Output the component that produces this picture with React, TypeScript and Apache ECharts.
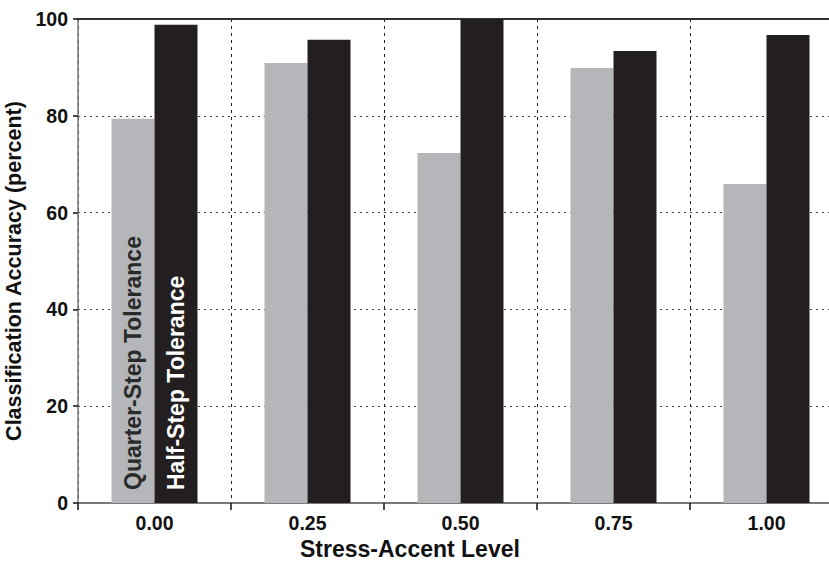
import React, { useEffect, useRef } from "react";
import * as echarts from "echarts";

const categories = ["0.00", "0.25", "0.50", "0.75", "1.00"];
const quarterStep = [79.4, 90.9, 72.3, 89.9, 65.9];
const halfStep = [98.8, 95.7, 100, 93.4, 96.7];
const yTicks = [0, 20, 40, 60, 80, 100];

const FONT = "'Liberation Sans', Arial, sans-serif";

export default function App() {
  const ref = useRef<HTMLDivElement>(null);
  useEffect(() => {
    if (!ref.current) return;
    const chart = echarts.init(ref.current, null, { renderer: "svg" });
    const barLabel = (text: string, color: string) => ({
      show: true,
      formatter: text,
      position: "insideBottom",
      rotate: 90,
      align: "left",
      verticalAlign: "middle",
      distance: 13,
      color,
      fontSize: 23,
      fontWeight: "bold",
      fontFamily: FONT,
    });
    const quarterData = quarterStep.map((v, i) =>
      i === 0 ? { value: v, label: barLabel("Quarter-Step Tolerance", "#2a2a2a") } : v
    );
    const halfData = halfStep.map((v, i) =>
      i === 0 ? { value: v, label: barLabel("Half-Step Tolerance", "#ffffff") } : v
    );
    chart.setOption({
      animation: false,
      backgroundColor: "#ffffff",
      textStyle: { fontFamily: FONT },
      grid: {
        left: 78,
        top: 19,
        width: 765,
        height: 484,
        show: false,
        containLabel: false,
        outerBoundsMode: "none",
      },
      xAxis: [
        {
          type: "category",
          data: categories,
          position: "bottom",
          axisLine: { lineStyle: { color: "#7a7a7a", width: 2 } },
          axisTick: { show: true, length: 7, lineStyle: { color: "#111", width: 1.5 } },
          axisLabel: {
            color: "#111",
            fontSize: 19.5,
            fontWeight: "bold",
            fontFamily: FONT,
            margin: 10,
          },
          splitLine: {
            show: true,
            lineStyle: { color: "#222", type: [3, 4], width: 1 },
          },
        },
        {
          type: "category",
          data: categories,
          position: "top",
          axisLine: { lineStyle: { color: "#333", width: 2 } },
          axisTick: { show: false },
          axisLabel: { show: false },
          splitLine: { show: false },
        },
      ],
      yAxis: {
        type: "value",
        min: 0,
        max: 100,
        interval: 20,
        name: "Classification Accuracy (percent)",
        nameLocation: "middle",
        nameGap: 47,
        nameTextStyle: {
          color: "#111",
          fontSize: 21.5,
          fontWeight: "bold",
          fontFamily: FONT,
          padding: [0, 20, 0, 0],
        },
        axisLine: { show: true, lineStyle: { color: "#7a7a7a", width: 1.5 } },
        axisTick: { show: true, length: 5, lineStyle: { color: "#111", width: 1.5 } },
        axisLabel: {
          color: "#111",
          fontSize: 19.5,
          fontWeight: "bold",
          fontFamily: FONT,
          margin: 10,
          formatter: (v: number) => (yTicks.includes(v) ? String(v) : ""),
        },
        splitLine: {
          show: true,
          lineStyle: { color: "#444", type: [2, 4], width: 1 },
        },
      },
      graphic: [
        {
          type: "text",
          left: 300,
          top: 537,
          style: {
            text: "Stress-Accent Level",
            fill: "#111",
            fontSize: 23,
            fontWeight: "bold",
            fontFamily: FONT,
          },
        },
      ],
      series: [
        {
          type: "bar",
          name: "Quarter-Step Tolerance",
          data: quarterData,
          barWidth: 43,
          barGap: "0%",
          itemStyle: { color: "#b5b6b9" },
        },
        {
          type: "bar",
          name: "Half-Step Tolerance",
          data: halfData,
          barWidth: 43,
          barGap: "0%",
          itemStyle: { color: "#231f20" },
        },
      ],
    });
    return () => chart.dispose();
  }, []);
  return (
    <div
      ref={ref}
      style={{ position: "fixed", left: 0, top: 0, width: 829, height: 561, overflow: "hidden" }}
    />
  );
}
